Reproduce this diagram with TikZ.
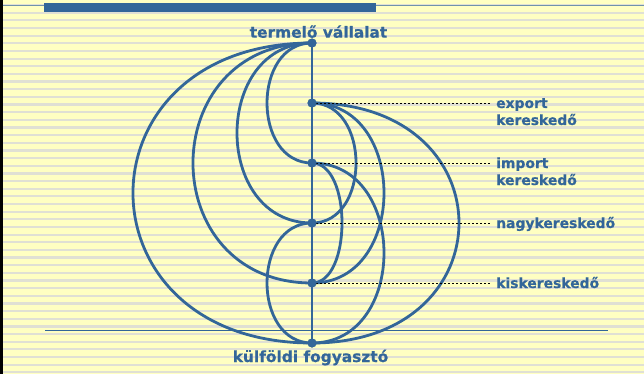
\documentclass[tikz,border=0pt]{standalone}
\usepackage{fontspec}
\setmainfont{DejaVu Sans}[BoldFeatures={FakeBold=0.6}]
\definecolor{bgyellow}{RGB}{255,255,194}
\definecolor{stripe}{RGB}{224,224,212}
\definecolor{steel}{RGB}{51,102,153}
\definecolor{tline}{RGB}{112,146,172}
\tikzset{
  conn/.style={draw=steel, line width=2.8pt},
  dot/.style={circle, fill=steel, inner sep=0pt, minimum size=9pt},
  guide/.style={draw=black, line width=0.9pt, dash pattern=on 2.4pt off 1.6pt},
  titletext/.style={text=steel, font=\fontsize{15.4}{18}\selectfont\bfseries, inner sep=0pt},
  lbltext/.style={text=steel, font=\fontsize{13.9}{17}\selectfont\bfseries, inner sep=0pt, anchor=base west}
}
\begin{document}
\begin{tikzpicture}[x=1pt,y=-1pt]
\useasboundingbox (0,0) rectangle (644,374);
% background
\fill[bgyellow] (0,0) rectangle (644,374);
\foreach \i in {0,...,48} {
  \fill[stripe] (0,{4.0+7.65*\i}) rectangle (644,{6.2+7.65*\i});
}
\fill[black] (0,0) rectangle (2.7,374);
\draw[tline, line width=1.4pt] (2.7,5.8) -- (644,5.8);
\fill[steel] (44,3) rectangle (376,12);
\draw[steel, line width=1.1pt] (45,330.7) -- (608,330.7);

% nodes
\node[dot] (prod) at (312,43) {};
\node[dot] (exp)  at (312,103) {};
\node[dot] (imp)  at (312,163) {};
\node[dot] (nagy) at (312,223) {};
\node[dot] (kis)  at (312,283) {};
\node[dot] (cons) at (312,343) {};

% left curves
\draw[conn] (prod.center) .. controls +(-60,0) and +(-60,0) .. (imp.center);
\draw[conn] (prod.center) .. controls +(-100,0) and +(-100,0) .. (nagy.center);
\draw[conn] (prod.center) .. controls +(-158.7,0) and +(-158.7,0) .. (kis.center);
\draw[conn] (prod.center) .. controls +(-238.7,0) and +(-238.7,0) .. (cons.center);
\draw[conn] (nagy.center) .. controls +(-60,0) and +(-60,0) .. (cons.center);
% right curves
\draw[conn] (exp.center) .. controls +(58.7,0) and +(58.7,0) .. (nagy.center);
\draw[conn] (imp.center) .. controls +(40,0) and +(40,0) .. (kis.center);
\draw[conn] (exp.center) .. controls +(96,0) and +(96,0) .. (kis.center);
\draw[conn] (imp.center) .. controls +(96,0) and +(96,0) .. (cons.center);
\draw[conn] (exp.center) .. controls +(196,0) and +(196,0) .. (cons.center);
% main vertical line
\draw[conn] (prod.center) -- (cons.center);

% guide lines
\coordinate (expend)  at (490,103);
\coordinate (impend)  at (490,163);
\coordinate (nagyend) at (490,223);
\coordinate (kisend)  at (490,283);
\draw[guide] (exp.center) -- (expend);
\draw[guide] (imp.center) -- (impend);
\draw[guide] (nagy.center) -- (nagyend);
\draw[guide] (kis.center) -- (kisend);

% redraw dots on top
\foreach \n in {prod,exp,imp,nagy,kis,cons} {
  \fill[steel] (\n.center) circle (4.5pt);
}

% labels
\node[titletext, anchor=base] (prodlbl) at (318.5,37.7) {termelő vállalat};
\node[titletext, anchor=base] (conslbl) at (310.5,362) {külföldi fogyasztó};
\node[lbltext] (explbl) at (496,108) {\begin{tabular}[t]{@{}l@{}}export\\kereskedő\end{tabular}};
\node[lbltext] (implbl) at (496,168) {\begin{tabular}[t]{@{}l@{}}import\\kereskedő\end{tabular}};
\node[lbltext] (nagylbl) at (496,228) {nagykereskedő};
\node[lbltext] (kislbl) at (496,288) {kiskereskedő};
\end{tikzpicture}
\end{document}
